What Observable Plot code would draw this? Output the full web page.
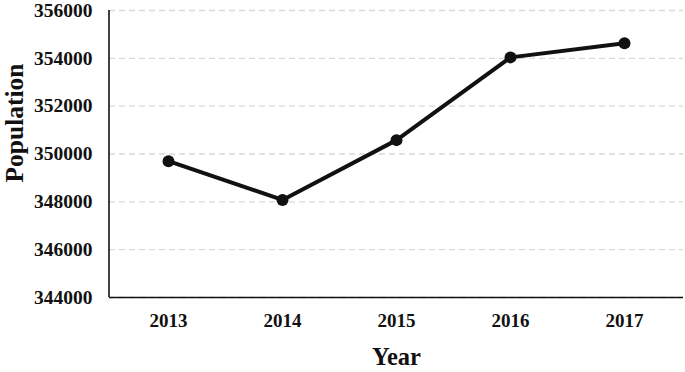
<!DOCTYPE html>
<html>
<head>
<meta charset="utf-8">
<script src="https://cdn.jsdelivr.net/npm/d3@7"></script>
<script src="https://cdn.jsdelivr.net/npm/@observablehq/plot@0.6"></script>
<style>
  html, body { margin: 0; padding: 0; background: #fff; }
</style>
</head>
<body>
<div id="chart"></div>
<script>
const years = ["2013", "2014", "2015", "2016", "2017"];
const population = [349700, 348080, 350580, 354040, 354630];
const yTicks = [344000, 346000, 348000, 350000, 352000, 354000, 356000];
const xTitle = "Year";
const yTitle = "Population";

const data = years.map((y, i) => ({year: y, value: population[i]}));
const font = "'Liberation Serif', 'Times New Roman', serif";

const leftAxisLine = (index, scales, values, dimensions) => {
  const g = d3.create("svg:g");
  g.append("line")
    .attr("x1", dimensions.marginLeft).attr("x2", dimensions.marginLeft)
    .attr("y1", scales.y(yTicks[yTicks.length - 1]))
    .attr("y2", scales.y(yTicks[0]))
    .attr("stroke", "#111").attr("stroke-width", 1.6);
  return g.node();
};

const chart = Plot.plot({
  width: 685,
  height: 372,
  marginLeft: 109,
  marginRight: 2,
  marginTop: 10,
  marginBottom: 75,
  style: {fontFamily: font, fontWeight: "bold", fontSize: "19px", color: "#111", background: "#fff"},
  x: {type: "point", domain: years, padding: 0.5, label: null},
  y: {domain: [yTicks[0], yTicks[yTicks.length - 1]], label: null},
  marks: [
    Plot.gridY(yTicks, {stroke: "#d9d9d9", strokeOpacity: 1, strokeWidth: 1.3, strokeDasharray: "6,4"}),
    Plot.axisY(yTicks, {tickSize: 0, tickPadding: 17, tickFormat: d => String(d), fontSize: 19.5, fontWeight: "bold", label: null}),
    Plot.axisX({tickSize: 0, tickPadding: 16, fontSize: 19, fontWeight: "bold", label: null}),
    Plot.ruleY([yTicks[0]], {stroke: "#111", strokeWidth: 1.6}),
    leftAxisLine,
    Plot.line(data, {x: "year", y: "value", stroke: "#111", strokeWidth: 4}),
    Plot.dot(data, {x: "year", y: "value", r: 6, fill: "#111", stroke: "none"}),
    Plot.text([xTitle], {frameAnchor: "bottom", dy: 67, fontSize: 24.5, fontWeight: "bold", fill: "#111"}),
    Plot.text([yTitle], {frameAnchor: "left", textAnchor: "middle", rotate: -90, dx: -95, dy: -31, fontSize: 25.5, fontWeight: "bold", fill: "#111"})
  ]
});
document.getElementById("chart").appendChild(chart);
</script>
</body>
</html>
